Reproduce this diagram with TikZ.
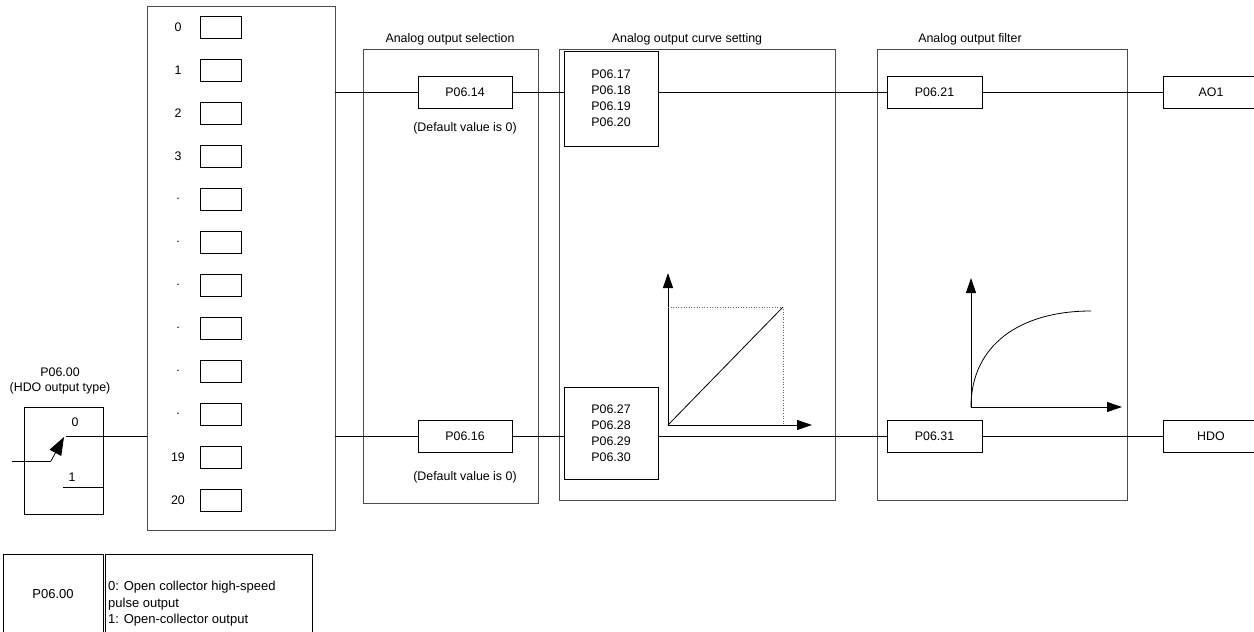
\documentclass[tikz,border=0pt]{standalone}
\usepackage{fontspec}
\setmainfont{Liberation Sans}
\usetikzlibrary{arrows.meta}
\begin{document}
\begin{tikzpicture}[x=1pt,y=-1pt,
  txt/.style={font=\fontsize{12.4}{16}\selectfont, inner sep=0},
  tabtxt/.style={font=\fontsize{13}{16.5}\selectfont, inner sep=0},
  bx/.style={draw, line width=0.8pt, inner sep=0, txt},
  encl/.style={draw=black!70, line width=0.9pt, inner sep=0},
  wire/.style={line width=0.8pt},
  axis/.style={line width=1pt, -{Triangle[length=15pt,width=10pt]}},
]
\useasboundingbox (0,0) rectangle (1254,632);

% enclosures
\node[encl, minimum width=188, minimum height=524] (lst) at (241,268) {};
\node[encl, minimum width=175, minimum height=454] (sel) at (450.5,276) {};
\node[encl, minimum width=276, minimum height=451] (cur) at (697,274.5) {};
\node[encl, minimum width=250, minimum height=451] (filt) at (1002,274.5) {};

% titles
\node[txt] (tsel) at (450,39) {Analog output selection};
\node[txt] (tcur) at (687,39) {Analog output curve setting};
\node[txt] (tfilt) at (970,39) {Analog output filter};

% list of sources
\foreach \i/\l in {0/0,1/1,2/2,3/3,4/.,5/.,6/.,7/.,8/.,9/.,10/19,11/20} {
  \node[bx, minimum width=41, minimum height=22] (s\i) at (220.5,{27+43*\i}) {};
  \node[txt] (l\i) at (178,{27+43*\i}) {\l};
}

% parameter boxes
\node[bx, minimum width=94, minimum height=32] (p14) at (465,92) {P06.14};
\node[bx, minimum width=94, minimum height=32] (p16) at (465,436) {P06.16};
\node[txt] (d14) at (465,128) {(Default value is 0)};
\node[txt] (d16) at (465,477) {(Default value is 0)};
\node[bx, minimum width=94, minimum height=95, align=center] (p17) at (611,98.5) {P06.17\\P06.18\\P06.19\\P06.20};
\node[bx, minimum width=94, minimum height=92, align=center] (p27) at (611,433) {P06.27\\P06.28\\P06.29\\P06.30};
\node[bx, minimum width=95, minimum height=32] (p21) at (934.5,92) {P06.21};
\node[bx, minimum width=95, minimum height=32] (p31) at (934.5,436) {P06.31};
\node[bx, minimum width=96, minimum height=32] (ao1) at (1211,92) {AO1};
\node[bx, minimum width=96, minimum height=32] (hdo) at (1211,436) {HDO};

% wires top
\draw[wire] (lst.east |- p14.west) -- (p14.west);
\draw[wire] (p14.east) -- (p14.east -| p17.west);
\draw[wire] (p14.east -| p17.east) -- (p21.west);
\draw[wire] (p21.east) -- (ao1.west);
% wires bottom
\draw[wire] (lst.east |- p16.west) -- (p16.west);
\draw[wire] (p16.east) -- (p16.east -| p27.west);
\draw[wire] (p16.east -| p27.east) -- (p31.west);
\draw[wire] (p31.east) -- (hdo.west);

% curve setting graph
\coordinate (o1) at (668,425);
\coordinate (y1) at (668,273);
\coordinate (x1) at (812,425);
\coordinate (k1) at (783,307);
\draw[axis] (o1) -- (y1);
\draw[axis] (o1) -- (x1);
\draw[dotted, black!60, line width=0.6pt] (o1 |- k1) -- (k1) -- (k1 |- o1);
\draw[wire] (o1) -- (k1);

% filter graph
\coordinate (o2) at (971,407);
\coordinate (y2) at (971,278);
\coordinate (x2) at (1122,407);
\coordinate (e2) at (1091,311);
\draw[axis] (o2) -- (y2);
\draw[axis] (o2) -- (x2);
\draw[wire] (o2) .. controls (971,345) and (1020,311) .. (e2);

% switch
\node[txt] (swt1) at (60,372) {P06.00};
\node[txt] (swt2) at (60,388) {(HDO output type)};
\node[bx, minimum width=79, minimum height=107] (sw) at (63.5,460.5) {};
\coordinate (swin) at (12,461);
\coordinate (swk) at (51,461);
\coordinate (swtip) at (64,437);
\draw[wire] (swin) -- (swk);
\draw[wire, -{Triangle[length=18pt,width=13pt]}] (swk) -- (swtip);
\coordinate (c0) at (66,436);
\draw[wire] (c0) -- (c0 -| lst.west);
\coordinate (c1) at (63,487);
\draw[wire] (c1) -- (c1 -| sw.east);
\node[txt] (n0) at (75,422) {0};
\node[txt] (n1) at (72,477) {1};

% table
\node[draw, line width=0.8pt, inner sep=0, minimum width=100, minimum height=80, tabtxt] (tabl) at (53,594) {P06.00};
\node[draw, line width=0.8pt, inner sep=0, minimum width=207, minimum height=80] (tabr) at (208.5,594) {};
\node[tabtxt, anchor=west, align=left] (tabt) at (108,604) {0: Open collector high-speed\\pulse output\\1: Open-collector output};
\end{tikzpicture}
\end{document}
